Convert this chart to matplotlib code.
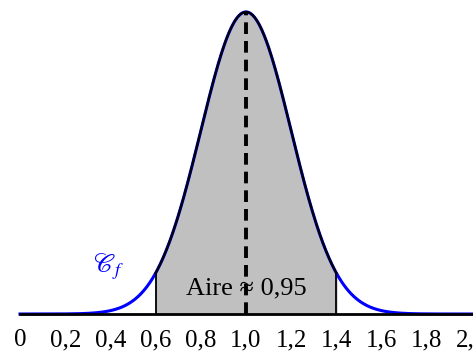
"""
Densité de la loi normale N(1 ; 0,2^2) avec l'aire entre 0,6 et 1,4.
"""

import numpy as np
import matplotlib
matplotlib.use("Agg")
import matplotlib.pyplot as plt

plt.rcParams['font.family'] = ['Liberation Serif', 'DejaVu Serif']
plt.rcParams['mathtext.fontset'] = 'stix'

mu = 1.0
sigma = 0.2
borne_inf = 0.6
borne_sup = 1.4
aire_label = "Aire ≈ 0,95"
tick_values = [0, 0.2, 0.4, 0.6, 0.8, 1.0, 1.2, 1.4, 1.6, 1.8, 2.0]
tick_labels = ["0", "0,2", "0,4", "0,6", "0,8", "1,0", "1,2", "1,4", "1,6", "1,8", "2,0"]


def densite(x):
    return np.exp(-0.5 * ((x - mu) / sigma) ** 2) / (sigma * np.sqrt(2 * np.pi))


def main():
    fig = plt.figure(figsize=(4.73, 3.51), dpi=100)
    ax = fig.add_axes([20 / 473, 37 / 351, 452 / 473, 318 / 351])

    x = np.linspace(0, 2.1, 600)
    ax.plot(x, densite(x), color='blue', lw=2.2, zorder=2, clip_on=False)

    xs = np.linspace(borne_inf, borne_sup, 300)
    ax.fill_between(xs, 0, densite(xs), color='#c0c0c0', zorder=1)
    ax.plot(xs, densite(xs), color='black', lw=1.6, zorder=3)
    ax.vlines([borne_inf, borne_sup], 0, densite(np.array([borne_inf, borne_sup])),
              color='black', lw=1.3, zorder=3)

    ax.text(1.0, 0.126, aire_label, ha='center', va='baseline', fontsize=19, zorder=4)
    ax.vlines(mu, 0, densite(mu), color='black', lw=2.8, linestyles=(0, (3, 1.8)), zorder=5)

    ax.text(0.39, 0.31, r'$\mathscr{C}_f$', color='blue', fontsize=19,
            ha='center', va='center')

    ax.axhline(0, color='black', lw=2, zorder=2, clip_on=False)

    ax.set_xlim(0, 2)
    ax.set_ylim(0, 2.1)
    for spine in ax.spines.values():
        spine.set_visible(False)
    ax.set_yticks([])
    ax.set_xticks(tick_values)
    ax.set_xticklabels(tick_labels, fontsize=18)
    ax.tick_params(axis='x', length=0, pad=11)

    fig.savefig("out.png", dpi=100)


if __name__ == "__main__":
    main()
